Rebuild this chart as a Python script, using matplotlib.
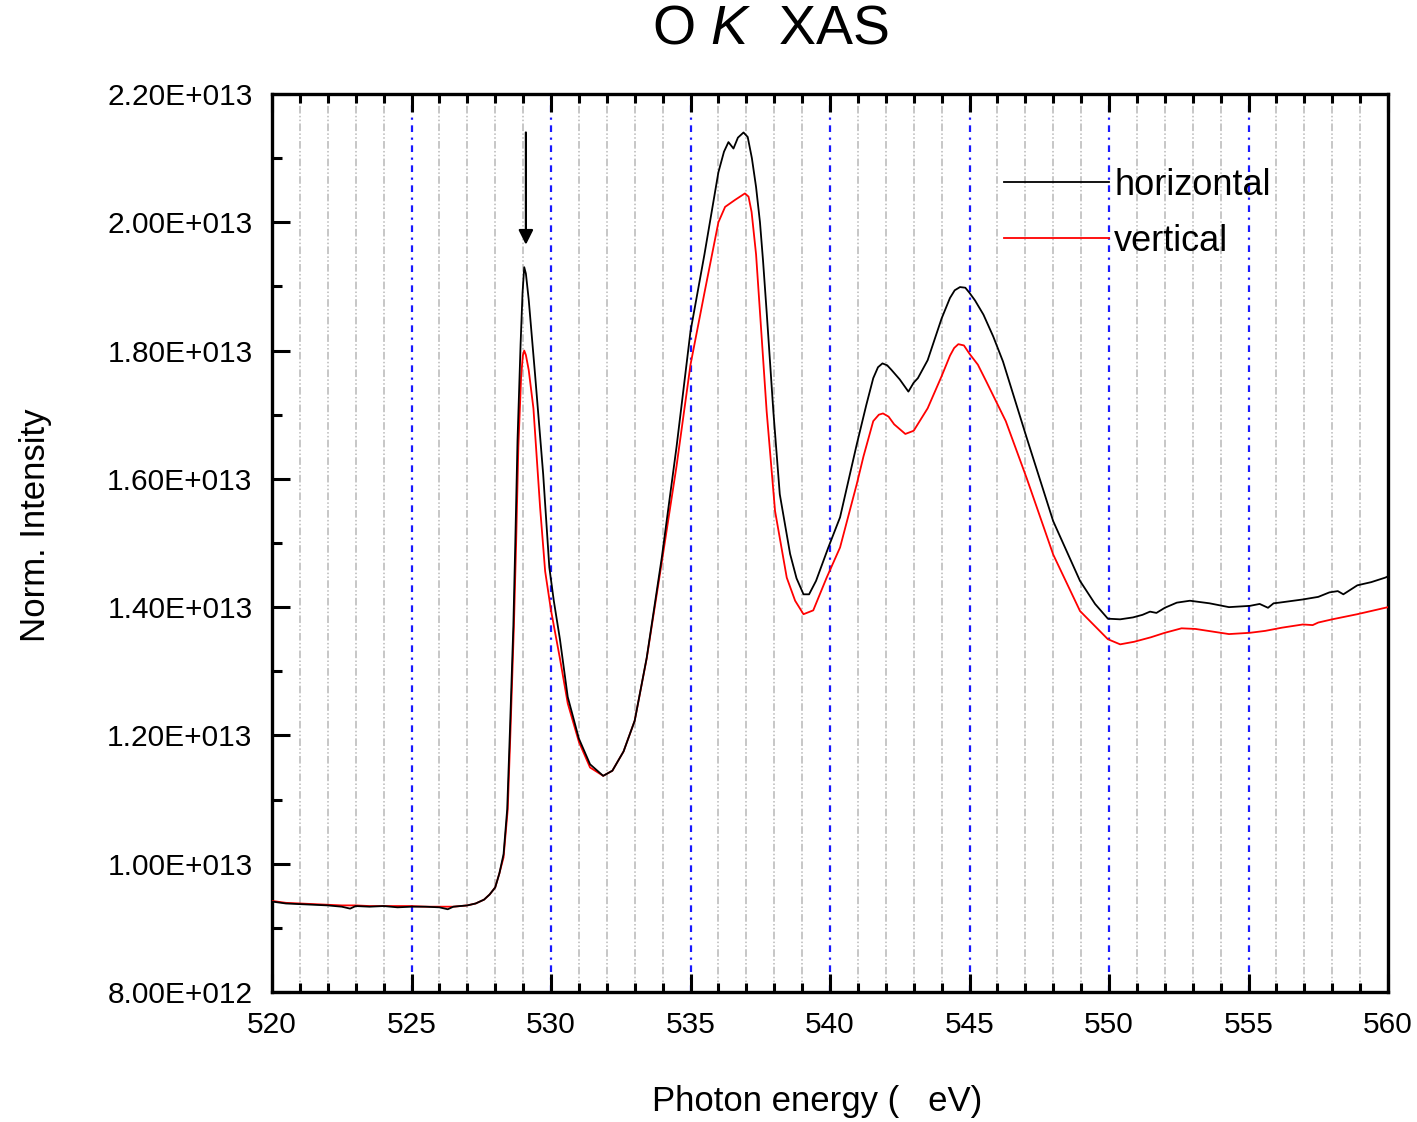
import matplotlib
matplotlib.use("Agg")
import matplotlib.pyplot as plt
import numpy as np

plt.rcParams['font.family'] = ['Liberation Sans', 'DejaVu Sans']
plt.rcParams['mathtext.fontset'] = 'custom'
plt.rcParams['mathtext.rm'] = 'Liberation Sans'
plt.rcParams['mathtext.it'] = 'Liberation Sans:italic'

# ---------------- data (intensity in units of 1E12) ----------------
energy_h = [520.0, 520.5, 521.0, 521.5, 522.0, 522.5, 522.8, 523.0, 523.5, 524.0,
            524.5, 525.0, 525.5, 526.0, 526.3, 526.5, 527.0, 527.3, 527.6, 527.8,
            528.0, 528.15, 528.3, 528.43, 528.53, 528.65, 528.72, 528.8, 528.91, 528.98,
            529.04, 529.1, 529.2, 529.43, 529.72, 529.94, 530.1, 530.32, 530.6, 531.0,
            531.4, 531.87, 532.2, 532.6, 533.0, 533.43, 533.97, 534.5, 535.0, 535.5,
            536.0, 536.2, 536.36, 536.54, 536.7, 536.9, 537.05, 537.2, 537.35, 537.49,
            537.6, 537.73, 537.97, 538.2, 538.57, 538.8, 539.05, 539.25, 539.5, 539.94,
            540.36, 540.96, 541.3, 541.55, 541.72, 541.88, 542.05, 542.2, 542.5, 542.81,
            543.0, 543.15, 543.5, 544.0, 544.3, 544.47, 544.66, 544.85, 545.0, 545.2,
            545.5, 545.85, 546.2, 547.05, 548.0, 548.96, 549.5, 549.96, 550.4, 550.86,
            551.2, 551.47, 551.7, 552.0, 552.43, 552.9, 553.6, 554.3, 555.05, 555.4,
            555.7, 555.9, 556.1, 556.95, 557.5, 557.9, 558.2, 558.4, 558.9, 559.4,
            559.9, 560.0]
intensity_h = [9.41, 9.38, 9.37, 9.36, 9.35, 9.33, 9.30, 9.34, 9.33, 9.34,
               9.32, 9.33, 9.33, 9.32, 9.29, 9.33, 9.35, 9.38, 9.44, 9.52,
               9.63, 9.85, 10.15, 10.85, 12.1, 13.7, 15.0, 16.6, 18.1, 18.9,
               19.3, 19.2, 18.8, 17.62, 16.07, 14.62, 14.1, 13.5, 12.6, 11.95,
               11.55, 11.37, 11.45, 11.75, 12.23, 13.21, 14.77, 16.5, 18.3, 19.5,
               20.78, 21.1, 21.25, 21.15, 21.32, 21.4, 21.33, 21.0, 20.55, 20.0,
               19.4, 18.6, 17.05, 15.76, 14.83, 14.45, 14.2, 14.2, 14.41, 14.93,
               15.4, 16.54, 17.15, 17.57, 17.74, 17.80, 17.77, 17.70, 17.55, 17.36,
               17.5, 17.57, 17.85, 18.5, 18.82, 18.94, 18.99, 18.98, 18.9, 18.78,
               18.56, 18.22, 17.83, 16.64, 15.34, 14.41, 14.05, 13.82, 13.81, 13.84,
               13.88, 13.93, 13.91, 13.99, 14.07, 14.10, 14.06, 14.0, 14.02, 14.05,
               13.99, 14.06, 14.07, 14.12, 14.16, 14.23, 14.25, 14.20, 14.34, 14.39,
               14.46, 14.48]

energy_v = [520.0, 520.5, 521.0, 521.5, 522.0, 522.5, 523.0, 523.5, 524.0, 524.5,
            525.0, 525.5, 526.0, 526.5, 527.0, 527.3, 527.6, 527.8, 528.0, 528.15,
            528.3, 528.45, 528.55, 528.67, 528.75, 528.83, 528.93, 528.99, 529.04, 529.1,
            529.2, 529.37, 529.61, 529.79, 530.0, 530.32, 530.6, 531.0, 531.4, 531.87,
            532.2, 532.6, 533.0, 533.43, 533.97, 534.5, 535.0, 535.5, 536.0, 536.24,
            536.6, 536.95, 537.08, 537.19, 537.35, 537.49, 537.73, 538.03, 538.45, 538.75,
            539.05, 539.4, 539.88, 540.36, 540.96, 541.2, 541.55, 541.75, 541.9, 542.1,
            542.3, 542.7, 543.0, 543.5, 544.0, 544.3, 544.45, 544.6, 544.8, 545.0,
            545.3, 545.6, 546.3, 547.05, 548.0, 548.96, 549.96, 550.4, 550.9, 551.5,
            552.0, 552.6, 553.1, 553.7, 554.3, 555.05, 555.6, 556.2, 556.95, 557.3,
            557.5, 558.0, 558.9, 559.9, 560.0]
intensity_v = [9.42, 9.39, 9.38, 9.37, 9.36, 9.35, 9.35, 9.34, 9.34, 9.34,
               9.34, 9.33, 9.33, 9.33, 9.35, 9.38, 9.44, 9.52, 9.63, 9.85,
               10.1, 10.85, 12.1, 13.7, 15.0, 16.5, 17.6, 17.92, 18.0, 17.93,
               17.7, 17.1, 15.55, 14.56, 13.95, 13.2, 12.5, 11.9, 11.5, 11.37,
               11.45, 11.75, 12.23, 13.2, 14.7, 16.2, 17.78, 18.9, 20.0, 20.24,
               20.35, 20.45, 20.4, 20.16, 19.5, 18.6, 17.05, 15.5, 14.46, 14.1,
               13.89, 13.95, 14.46, 14.93, 15.92, 16.35, 16.9, 17.0, 17.02, 16.97,
               16.85, 16.70, 16.75, 17.1, 17.6, 17.92, 18.04, 18.10, 18.08, 17.95,
               17.78, 17.52, 16.9, 16.01, 14.82, 13.94, 13.5, 13.42, 13.46, 13.53,
               13.6, 13.67, 13.66, 13.62, 13.58, 13.6, 13.63, 13.68, 13.73, 13.72,
               13.76, 13.81, 13.89, 13.99, 14.0]

series_labels = ['horizontal', 'vertical']
series_colors = ['black', 'red']

xticks = [520, 525, 530, 535, 540, 545, 550, 555, 560]
xtick_labels = ['520', '525', '530', '535', '540', '545', '550', '555', '560']
yticks = [8.0e12, 1.0e13, 1.2e13, 1.4e13, 1.6e13, 1.8e13, 2.0e13, 2.2e13]
ytick_labels = ['8.00E+012', '1.00E+013', '1.20E+013', '1.40E+013',
                '1.60E+013', '1.80E+013', '2.00E+013', '2.20E+013']

arrow_x = 529.1
arrow_top = 2.14e13
arrow_tip = 1.965e13

# ---------------- figure ----------------
fig = plt.figure(figsize=(14.17, 11.22), dpi=100)
ax = fig.add_axes([272/1417, 1-992/1122, (1388-272)/1417, (992-94)/1122])

ax.set_xlim(520, 560)
ax.set_ylim(8.0e12, 2.2e13)

# vertical grid lines
for xv in range(521, 560):
    if xv % 5 == 0:
        ax.axvline(xv, color='#1a1aff', lw=1.6, ls=(0, (3, 2.5, 1, 2.5)), zorder=1)
    else:
        ax.axvline(xv, color='#b8b8b8', lw=1.1, ls=(0, (5, 1.5, 1, 1.5, 1, 1.5)), zorder=1)

eh = np.array(energy_h)
ih = np.array(intensity_h) * 1e12
ev = np.array(energy_v)
iv = np.array(intensity_v) * 1e12
ax.plot(ev, iv, color=series_colors[1], lw=1.3, label=series_labels[1], zorder=3,
        solid_joinstyle='round')
ax.plot(eh, ih, color=series_colors[0], lw=1.3, label=series_labels[0], zorder=4,
        solid_joinstyle='round')

ax.annotate('', xy=(arrow_x, arrow_tip), xytext=(arrow_x, arrow_top),
            arrowprops=dict(arrowstyle='-|>', color='black', lw=1.6,
                            mutation_scale=22, shrinkA=0, shrinkB=0), zorder=5)

# ticks
ax.set_xticks(xticks)
ax.set_xticklabels(xtick_labels)
ax.set_xticks(np.arange(520, 561, 1), minor=True)
ax.set_yticks(yticks)
ax.set_yticklabels(ytick_labels)
ax.set_yticks(np.arange(8.0e12, 2.21e13, 1.0e12), minor=True)
ax.tick_params(axis='both', which='both', direction='in', labelsize=21.5, colors='black')
ax.tick_params(axis='x', which='major', length=13, width=2.2, top=True, pad=14)
ax.tick_params(axis='x', which='minor', length=6.5, width=2.2, top=True)
ax.tick_params(axis='y', which='major', length=13, width=2.2, right=False, pad=14)
ax.tick_params(axis='y', which='minor', length=7, width=2.2, right=False)
for s in ax.spines.values():
    s.set_linewidth(2.4)

# legend
handles, labels = ax.get_legend_handles_labels()
order = [1, 0]
leg = ax.legend([handles[i] for i in order], [labels[i] for i in order],
                loc='upper left', bbox_to_anchor=((1004-272)/1116, 1-(168-94)/898),
                frameon=False, fontsize=26, handlelength=2.9, handletextpad=0.15,
                labelspacing=0.58, borderpad=0, borderaxespad=0)

# texts
fig.text(770/1417, 1-30/1122, r'O $\mathit{K}$  XAS', fontsize=40, ha='center', va='center')
fig.text(817/1417, 1-1101/1122, 'Photon energy (   eV)', fontsize=25, ha='center', va='center')
fig.text(36/1417, 1-525/1122, 'Norm. Intensity', fontsize=25, ha='center', va='center',
         rotation=90)

fig.savefig('out.png', dpi=100)
